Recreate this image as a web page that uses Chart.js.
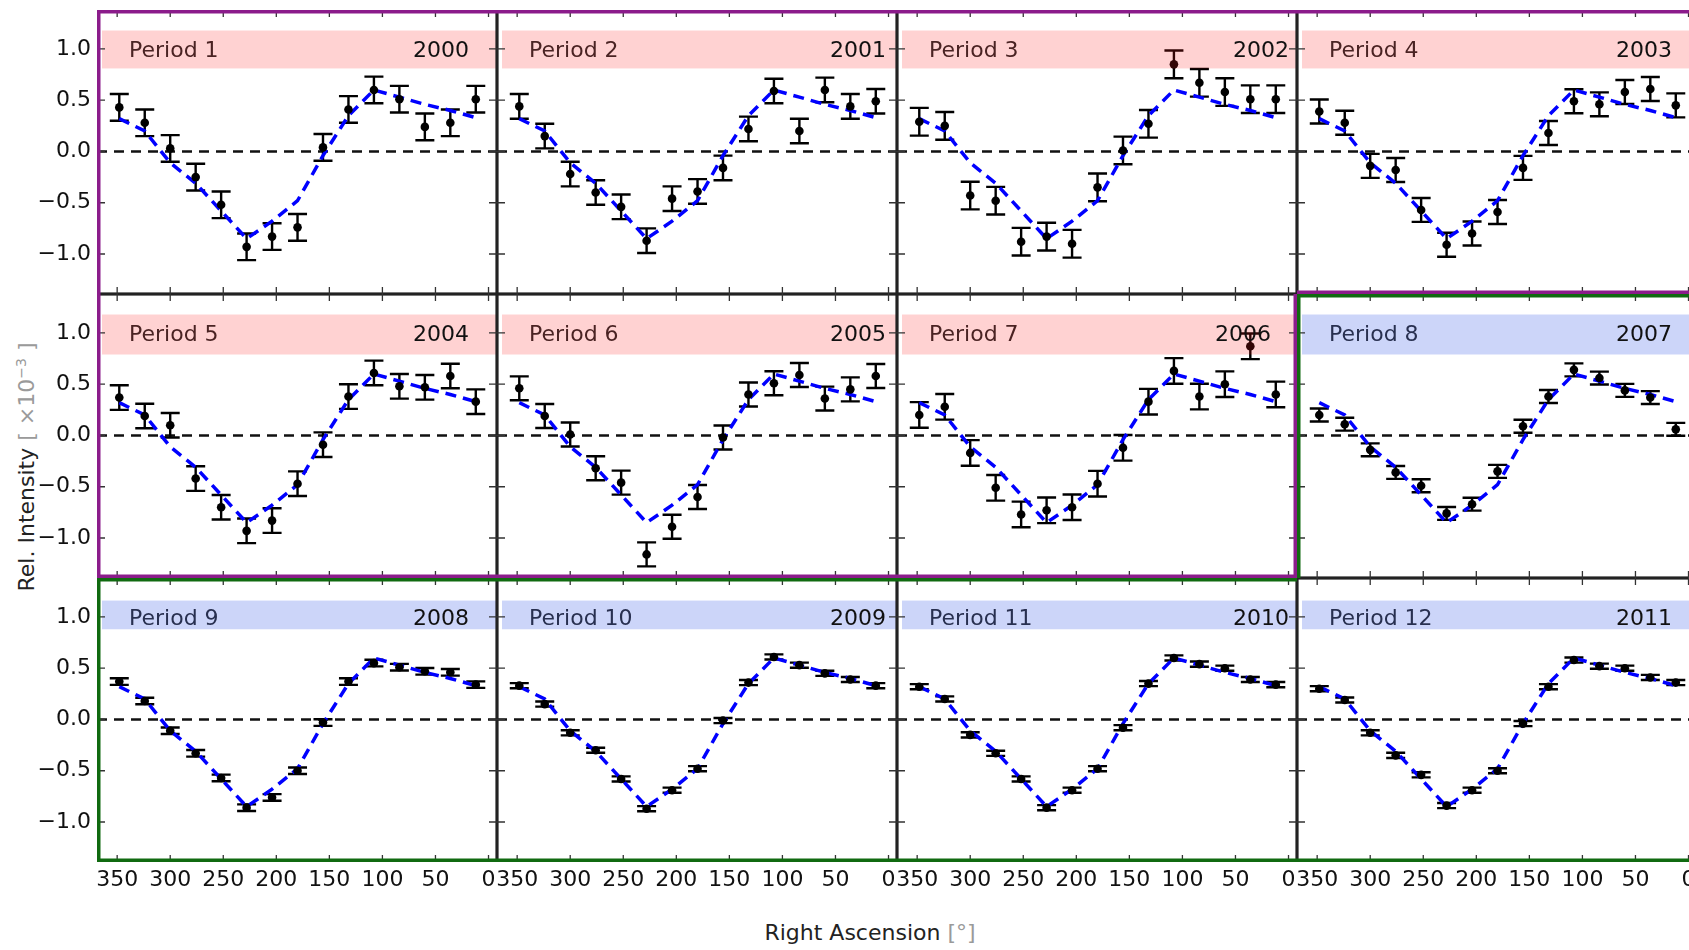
<!DOCTYPE html>
<html>
<head>
<meta charset="utf-8">
<script src="https://cdn.jsdelivr.net/npm/chart.js@4.4.1/dist/chart.umd.min.js"></script>
<style>
  html, body { margin: 0; padding: 0; background: #fff; overflow: hidden; }
  #fig { position: relative; width: 1689px; height: 950px; overflow: hidden; font-family: 'DejaVu Sans', sans-serif; }
  #fig canvas { position: absolute; }
  .xlabel { position: absolute; left: 870px; top: 932px; transform: translate(-50%, -50%); white-space: nowrap; font-size: 22px; color: #222; }
  .ylabel { position: absolute; left: 26px; top: 467px; transform: translate(-50%, -50%) rotate(-90deg); white-space: nowrap; font-size: 22px; color: #222; }
  .gray { color: #9a9a9a; }
  sup { font-size: 14px; }
</style>
</head>
<body>
<div id="fig">
  <div class="xlabel">Right Ascension <span class="gray">[°]</span></div>
  <div class="ylabel">Rel. Intensity <span class="gray">[ ×10<sup>−3</sup> ]</span></div>
</div>
<script>
// Right ascension bin centres (deg) and tick labels
const raBins = [348, 324, 300, 276, 252, 228, 204, 180, 156, 132, 108, 84, 60, 36, 12];
const xTicks = [350, 300, 250, 200, 150, 100, 50, 0];
const yTicks = [-1.0, -0.5, 0.0, 0.5, 1.0];

// Panel titles
const periods = ['Period 1', 'Period 2', 'Period 3', 'Period 4', 'Period 5', 'Period 6',
  'Period 7', 'Period 8', 'Period 9', 'Period 10', 'Period 11', 'Period 12'];
const years = ['2000', '2001', '2002', '2003', '2004', '2005', '2006', '2007', '2008', '2009', '2010', '2011'];

// Model curve (blue dashed)
const model = [0.32, 0.20, -0.11, -0.31, -0.58, -0.85, -0.68, -0.48, -0.04, 0.35, 0.60, 0.53, 0.46, 0.40, 0.33];

// Measured relative intensity per period
const p1  = [0.43, 0.28, 0.03, -0.25, -0.52, -0.93, -0.83, -0.74, 0.04, 0.41, 0.60, 0.51, 0.24, 0.28, 0.51];
const p2  = [0.44, 0.15, -0.22, -0.40, -0.54, -0.87, -0.46, -0.39, -0.16, 0.22, 0.59, 0.20, 0.60, 0.44, 0.49];
const p3  = [0.29, 0.25, -0.43, -0.48, -0.88, -0.83, -0.90, -0.35, 0.01, 0.27, 0.85, 0.67, 0.58, 0.51, 0.51];
const p4  = [0.39, 0.28, -0.14, -0.18, -0.57, -0.91, -0.80, -0.59, -0.16, 0.18, 0.49, 0.46, 0.58, 0.61, 0.45];
const p5  = [0.37, 0.19, 0.10, -0.42, -0.70, -0.93, -0.83, -0.47, -0.09, 0.38, 0.61, 0.48, 0.47, 0.58, 0.33];
const p6  = [0.46, 0.19, 0.01, -0.32, -0.46, -1.16, -0.89, -0.60, -0.02, 0.40, 0.51, 0.59, 0.36, 0.45, 0.58];
const p7  = [0.20, 0.28, -0.17, -0.51, -0.77, -0.73, -0.70, -0.47, -0.12, 0.33, 0.63, 0.38, 0.50, 0.87, 0.40];
const p8  = [0.20, 0.11, -0.14, -0.36, -0.49, -0.76, -0.67, -0.35, 0.09, 0.38, 0.64, 0.56, 0.44, 0.37, 0.06];
const p9  = [0.37, 0.18, -0.11, -0.33, -0.57, -0.86, -0.76, -0.50, -0.03, 0.37, 0.55, 0.51, 0.47, 0.46, 0.34];
const p10 = [0.33, 0.15, -0.13, -0.30, -0.58, -0.87, -0.69, -0.48, -0.01, 0.36, 0.61, 0.53, 0.45, 0.39, 0.33];
const p11 = [0.32, 0.20, -0.15, -0.33, -0.58, -0.86, -0.69, -0.48, -0.08, 0.35, 0.60, 0.54, 0.50, 0.39, 0.34];
const p12 = [0.30, 0.19, -0.13, -0.35, -0.54, -0.84, -0.69, -0.50, -0.04, 0.32, 0.58, 0.52, 0.50, 0.41, 0.36];
const series = [p1, p2, p3, p4, p5, p6, p7, p8, p9, p10, p11, p12];

// Error bar half-widths per period
const errs = [0.13, 0.12, 0.135, 0.117, 0.12, 0.117, 0.125, 0.063, 0.032, 0.025, 0.025, 0.025];

// Layout
const PANEL_W = 400, PANEL_H = 284, LEFT = 97, TOP = 10;
const yearX = [316, 333, 336, 319, 316, 333, 318, 319, 316, 333, 336, 319];
const bandRows = [[0.81, 1.18], [0.79, 1.18], [0.88, 1.16]];
const PURPLE = '#8b1c8b', GREEN = '#106a10';

Chart.defaults.font.family = "'DejaVu Sans', sans-serif";
Chart.defaults.font.size = 22;
Chart.defaults.color = '#111';

function groupOf(r, c) {
  if (r < 0 || r > 2 || c < 0 || c > 3) return null;
  return (r * 4 + c) < 7 ? 'p' : 'g';
}

// keep axes from pushing the plot area around
function noPad(scale) {
  scale.paddingLeft = 0;
  scale.paddingRight = 0;
  scale.paddingTop = 0;
  scale.paddingBottom = 0;
}

// Draws zero line, error bars, title band, frame, inward ticks and group borders
const decor = {
  id: 'decor',
  beforeDatasetsDraw(chart, args, o) {
    const { ctx, chartArea: a, scales: { x, y } } = chart;
    ctx.save();
    ctx.beginPath();
    ctx.rect(a.left, a.top, a.width, a.height);
    ctx.clip();
    // zero line
    const y0 = y.getPixelForValue(0);
    ctx.strokeStyle = '#111';
    ctx.lineWidth = 2.5;
    ctx.setLineDash([10, 7]);
    ctx.beginPath();
    ctx.moveTo(a.left, y0);
    ctx.lineTo(a.right, y0);
    ctx.stroke();
    ctx.setLineDash([]);
    // error bars
    ctx.strokeStyle = '#000';
    ctx.lineWidth = 2.4;
    const vals = series[o.idx], e = errs[o.idx];
    vals.forEach((v, i) => {
      const px = x.getPixelForValue(raBins[i]);
      const lo = y.getPixelForValue(v - e), hi = y.getPixelForValue(v + e);
      ctx.beginPath();
      ctx.moveTo(px, lo); ctx.lineTo(px, hi);
      ctx.moveTo(px - 9.5, lo); ctx.lineTo(px + 9.5, lo);
      ctx.moveTo(px - 9.5, hi); ctx.lineTo(px + 9.5, hi);
      ctx.stroke();
    });
    ctx.restore();
  },
  afterDatasetsDraw(chart, args, o) {
    const { ctx, chartArea: a, scales: { x, y } } = chart;
    const idx = o.idx, r = Math.floor(idx / 4), c = idx % 4;
    const grp = groupOf(r, c);
    ctx.save();
    // title band (semi-transparent, over the data)
    const band = bandRows[r];
    const bTop = y.getPixelForValue(band[1]), bBot = y.getPixelForValue(band[0]);
    ctx.fillStyle = grp === 'p' ? 'rgba(255, 30, 30, 0.2)' : 'rgba(0, 45, 225, 0.2)';
    ctx.fillRect(a.left + 5, bTop, a.width - 5, bBot - bTop);
    // texts
    ctx.font = "22px 'DejaVu Sans', sans-serif";
    ctx.textAlign = 'left';
    ctx.textBaseline = 'alphabetic';
    const ty = y.getPixelForValue(1.0) + 8;
    ctx.fillStyle = grp === 'p' ? '#4a2323' : '#283050';
    ctx.fillText(periods[idx], a.left + 32, ty);
    ctx.fillStyle = '#111';
    ctx.fillText(years[idx], a.left + yearX[idx], ty);
    // frame
    ctx.strokeStyle = '#222';
    ctx.lineWidth = 1.6;
    ctx.strokeRect(a.left + 0.8, a.top + 0.8, a.width - 1.6, a.height - 1.6);
    // inward ticks
    ctx.lineWidth = 1.3;
    ctx.strokeStyle = '#333';
    ctx.beginPath();
    xTicks.forEach(v => {
      const px = x.getPixelForValue(v);
      ctx.moveTo(px, a.bottom); ctx.lineTo(px, a.bottom - 7);
      ctx.moveTo(px, a.top); ctx.lineTo(px, a.top + 7);
    });
    yTicks.forEach(v => {
      const py = y.getPixelForValue(v);
      ctx.moveTo(a.left, py); ctx.lineTo(a.left + 8, py);
      ctx.moveTo(a.right, py); ctx.lineTo(a.right - 8, py);
    });
    ctx.stroke();
    // group borders
    ctx.strokeStyle = grp === 'p' ? PURPLE : GREEN;
    ctx.lineWidth = 3.5;
    const ins = 1.75;
    ctx.beginPath();
    if (groupOf(r - 1, c) !== grp) { ctx.moveTo(a.left, a.top + ins); ctx.lineTo(a.right, a.top + ins); }
    if (groupOf(r + 1, c) !== grp) { ctx.moveTo(a.left, a.bottom - ins); ctx.lineTo(a.right, a.bottom - ins); }
    if (groupOf(r, c - 1) !== grp) { ctx.moveTo(a.left + ins, a.top); ctx.lineTo(a.left + ins, a.bottom); }
    if (groupOf(r, c + 1) !== grp) { ctx.moveTo(a.right - ins, a.top); ctx.lineTo(a.right - ins, a.bottom); }
    ctx.stroke();
    ctx.restore();
  }
};

const fig = document.getElementById('fig');

series.forEach((vals, idx) => {
  const r = Math.floor(idx / 4), c = idx % 4;
  const showY = c === 0, showX = r === 2;
  const axisW = showY ? LEFT : 0, axisH = showX ? 88 : 0;
  const canvas = document.createElement('canvas');
  const w = PANEL_W + axisW, h = PANEL_H + axisH;
  canvas.width = w;
  canvas.height = h;
  canvas.style.left = (LEFT + c * PANEL_W - axisW) + 'px';
  canvas.style.top = (TOP + r * PANEL_H) + 'px';
  canvas.style.width = w + 'px';
  canvas.style.height = h + 'px';
  fig.appendChild(canvas);

  new Chart(canvas, {
    type: 'scatter',
    data: {
      datasets: [
        {
          data: raBins.map((ra, i) => ({ x: ra, y: model[i] })),
          showLine: true,
          borderColor: '#0000ff',
          borderWidth: 3.5,
          borderDash: [11, 7],
          pointRadius: 0,
          fill: false,
          tension: 0,
          order: 2
        },
        {
          data: raBins.map((ra, i) => ({ x: ra, y: vals[i] })),
          pointRadius: 4.3,
          pointBackgroundColor: '#000',
          pointBorderWidth: 0,
          order: 1
        }
      ]
    },
    options: {
      responsive: false,
      animation: false,
      events: [],
      layout: { padding: 0, autoPadding: false },
      plugins: {
        legend: { display: false },
        tooltip: { enabled: false },
        decor: { idx: idx }
      },
      scales: {
        x: {
          type: 'linear',
          reverse: true,
          min: -8,
          max: 369,
          display: showX,
          grid: { display: false, drawTicks: false },
          border: { display: false },
          ticks: {
            autoSkip: false,
            maxRotation: 0,
            padding: 5,
            color: '#111',
            callback: v => String(v)
          },
          afterBuildTicks: scale => { scale.ticks = xTicks.map(v => ({ value: v })); },
          afterFit: scale => { scale.height = axisH; noPad(scale); }
        },
        y: {
          type: 'linear',
          min: -1.39,
          max: 1.38,
          display: showY,
          grid: { display: false, drawTicks: false },
          border: { display: false },
          ticks: {
            padding: 6,
            color: '#111',
            callback: v => (v < 0 ? '\u2212' : '') + Math.abs(v).toFixed(1)
          },
          afterBuildTicks: scale => { scale.ticks = yTicks.map(v => ({ value: v })); },
          afterFit: scale => { scale.width = axisW; noPad(scale); }
        }
      }
    },
    plugins: [decor]
  });
});
</script>
</body>
</html>
